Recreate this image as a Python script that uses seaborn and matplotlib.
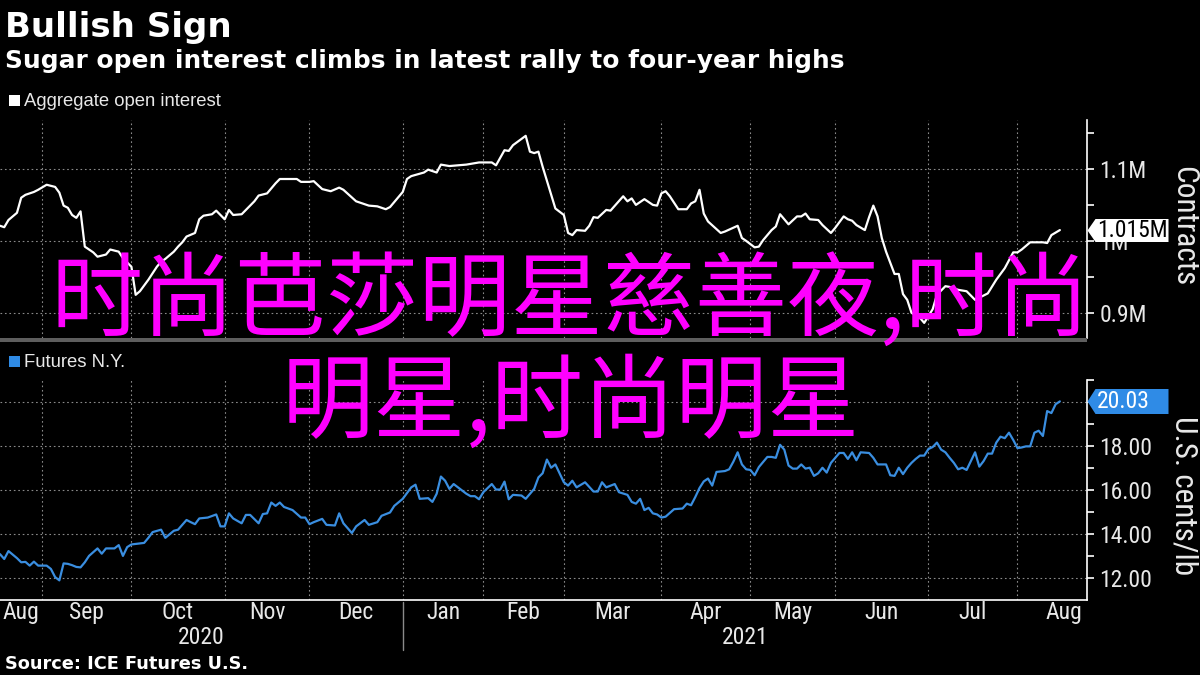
import numpy as np
import pandas as pd
import matplotlib
matplotlib.use("Agg")
import matplotlib.pyplot as plt
import matplotlib.transforms as mtransforms
from matplotlib.patches import Rectangle
from matplotlib.path import Path
from matplotlib.markers import MarkerStyle
from matplotlib import font_manager as fm
import seaborn as sns

# ---------------- data ----------------
TITLE = "Bullish Sign"
SUBTITLE = "Sugar open interest climbs in latest rally to four-year highs"
SOURCE = "Source: ICE Futures U.S."
LEGEND_TOP = "Aggregate open interest"
LEGEND_BOTTOM = "Futures N.Y."
YLABEL_TOP = "Contracts"
YLABEL_BOTTOM = "U.S. cents/lb"
OVERLAY_1 = "时尚芭莎明星慈善夜,时尚"
OVERLAY_2 = "明星,时尚明星"

OI_DATES = [
    "2020-08-18", "2020-08-19", "2020-08-20", "2020-08-24", "2020-08-25", "2020-08-26", "2020-08-28",
    "2020-08-31", "2020-09-02", "2020-09-04", "2020-09-08", "2020-09-09", "2020-09-10", "2020-09-11",
    "2020-09-14", "2020-09-15", "2020-09-16", "2020-09-18", "2020-09-21", "2020-09-23", "2020-09-24",
    "2020-09-28", "2020-09-29", "2020-10-01", "2020-10-02", "2020-10-05", "2020-10-07", "2020-10-09",
    "2020-10-12", "2020-10-13", "2020-10-15", "2020-10-16", "2020-10-19", "2020-10-20", "2020-10-22",
    "2020-10-23", "2020-10-26", "2020-10-28", "2020-10-29", "2020-11-02", "2020-11-03", "2020-11-04",
    "2020-11-06", "2020-11-11", "2020-11-12", "2020-11-16", "2020-11-18", "2020-11-19", "2020-11-25",
    "2020-11-27", "2020-12-01", "2020-12-02", "2020-12-04", "2020-12-08", "2020-12-10", "2020-12-11",
    "2020-12-16", "2020-12-17", "2020-12-21", "2020-12-23", "2020-12-28", "2020-12-29", "2021-01-04",
    "2021-01-05", "2021-01-06", "2021-01-11", "2021-01-12", "2021-01-14", "2021-01-15", "2021-01-20",
    "2021-01-22", "2021-01-26", "2021-01-29", "2021-02-03", "2021-02-04", "2021-02-08", "2021-02-09",
    "2021-02-10", "2021-02-16", "2021-02-17", "2021-02-18", "2021-02-19", "2021-02-22", "2021-02-25",
    "2021-03-01", "2021-03-02", "2021-03-03", "2021-03-04", "2021-03-08", "2021-03-09", "2021-03-10",
    "2021-03-11", "2021-03-15", "2021-03-16", "2021-03-19", "2021-03-22", "2021-03-23", "2021-03-24",
    "2021-03-26", "2021-03-30", "2021-03-31", "2021-04-01", "2021-04-05", "2021-04-06", "2021-04-08",
    "2021-04-12", "2021-04-13", "2021-04-14", "2021-04-15", "2021-04-16", "2021-04-19", "2021-04-22",
    "2021-04-23", "2021-04-28", "2021-04-29", "2021-04-30", "2021-05-04", "2021-05-05", "2021-05-06",
    "2021-05-10", "2021-05-11", "2021-05-12", "2021-05-14", "2021-05-18", "2021-05-19", "2021-05-20",
    "2021-05-21", "2021-05-25", "2021-05-26", "2021-05-28", "2021-06-01", "2021-06-03", "2021-06-04",
    "2021-06-07", "2021-06-08", "2021-06-10", "2021-06-11", "2021-06-14", "2021-06-15", "2021-06-16",
    "2021-06-17", "2021-06-21", "2021-06-22", "2021-06-23", "2021-06-24", "2021-06-25", "2021-06-29",
    "2021-06-30", "2021-07-02", "2021-07-06", "2021-07-08", "2021-07-09", "2021-07-13", "2021-07-15",
    "2021-07-19", "2021-07-22", "2021-07-26", "2021-07-28", "2021-07-30", "2021-08-02", "2021-08-03",
    "2021-08-05", "2021-08-10", "2021-08-11", "2021-08-12", "2021-08-16",
]
# aggregate open interest, million contracts
OI_VALUES = [
    1.021, 1.019, 1.029, 1.039, 1.060, 1.064, 1.068,
    1.071, 1.078, 1.075, 1.067, 1.049, 1.046, 1.036,
    1.032, 1.041, 0.992, 0.984, 0.978, 0.981, 0.988,
    0.985, 0.976, 0.964, 0.925, 0.930, 0.946, 0.964,
    0.971, 0.975, 0.985, 0.992, 0.998, 1.006, 1.011,
    1.030, 1.035, 1.037, 1.042, 1.030, 1.043, 1.036,
    1.037, 1.055, 1.063, 1.066, 1.080, 1.086, 1.086,
    1.082, 1.082, 1.083, 1.072, 1.069, 1.074, 1.071,
    1.055, 1.053, 1.049, 1.048, 1.044, 1.047, 1.068,
    1.086, 1.090, 1.095, 1.099, 1.095, 1.106, 1.104,
    1.105, 1.106, 1.109, 1.109, 1.105, 1.126, 1.125,
    1.133, 1.146, 1.124, 1.122, 1.124, 1.103, 1.045,
    1.036, 1.011, 1.008, 1.015, 1.014, 1.021, 1.033,
    1.032, 1.043, 1.042, 1.062, 1.055, 1.059, 1.050,
    1.058, 1.050, 1.049, 1.066, 1.069, 1.062, 1.044,
    1.044, 1.052, 1.055, 1.071, 1.038, 1.027, 1.011,
    1.013, 1.021, 1.004, 1.000, 0.991, 0.992, 1.001,
    1.015, 1.020, 1.037, 1.023, 1.034, 1.034, 1.038,
    1.030, 1.029, 1.022, 1.011, 1.018, 1.034, 1.030,
    1.028, 1.022, 1.015, 1.033, 1.049, 1.034, 1.004,
    0.985, 0.954, 0.954, 0.926, 0.918, 0.900, 0.893,
    0.886, 0.905, 0.925, 0.937, 0.936, 0.932, 0.930,
    0.918, 0.927, 0.946, 0.962, 0.984, 0.984, 0.988,
    0.998, 0.998, 0.997, 1.008, 1.015,
]

FUT_DATES = [
    "2020-08-18", "2020-08-19", "2020-08-20", "2020-08-24", "2020-08-25", "2020-08-26", "2020-08-27",
    "2020-08-28", "2020-08-31", "2020-09-02", "2020-09-03", "2020-09-04", "2020-09-08", "2020-09-09",
    "2020-09-10", "2020-09-11", "2020-09-14", "2020-09-15", "2020-09-16", "2020-09-17", "2020-09-21",
    "2020-09-22", "2020-09-23", "2020-09-25", "2020-09-28", "2020-09-29", "2020-09-30", "2020-10-01",
    "2020-10-06", "2020-10-07", "2020-10-08", "2020-10-12", "2020-10-13", "2020-10-15", "2020-10-16",
    "2020-10-20", "2020-10-21", "2020-10-22", "2020-10-23", "2020-10-27", "2020-10-29", "2020-10-30",
    "2020-11-02", "2020-11-03", "2020-11-04", "2020-11-06", "2020-11-09", "2020-11-10", "2020-11-12",
    "2020-11-13", "2020-11-16", "2020-11-17", "2020-11-18", "2020-11-19", "2020-11-20", "2020-11-24",
    "2020-11-27", "2020-11-30", "2020-12-01", "2020-12-02", "2020-12-04", "2020-12-07", "2020-12-09",
    "2020-12-10", "2020-12-11", "2020-12-15", "2020-12-16", "2020-12-18", "2020-12-21", "2020-12-23",
    "2020-12-24", "2020-12-29", "2020-12-30", "2021-01-04", "2021-01-06", "2021-01-07", "2021-01-08",
    "2021-01-12", "2021-01-13", "2021-01-14", "2021-01-15", "2021-01-19", "2021-01-20", "2021-01-21",
    "2021-01-26", "2021-01-27", "2021-01-28", "2021-01-29", "2021-02-01", "2021-02-03", "2021-02-04",
    "2021-02-05", "2021-02-08", "2021-02-09", "2021-02-10", "2021-02-12", "2021-02-16", "2021-02-18",
    "2021-02-19", "2021-02-22", "2021-02-23", "2021-02-24", "2021-02-25", "2021-02-26", "2021-03-01",
    "2021-03-02", "2021-03-03", "2021-03-04", "2021-03-08", "2021-03-10", "2021-03-11", "2021-03-12",
    "2021-03-15", "2021-03-17", "2021-03-18", "2021-03-22", "2021-03-23", "2021-03-24", "2021-03-25",
    "2021-03-26", "2021-03-29", "2021-03-30", "2021-03-31", "2021-04-01", "2021-04-05", "2021-04-07",
    "2021-04-09", "2021-04-12", "2021-04-13", "2021-04-14", "2021-04-15", "2021-04-16", "2021-04-19",
    "2021-04-20", "2021-04-21", "2021-04-23", "2021-04-26", "2021-04-27", "2021-04-28", "2021-04-29",
    "2021-04-30", "2021-05-03", "2021-05-04", "2021-05-05", "2021-05-06", "2021-05-07", "2021-05-10",
    "2021-05-11", "2021-05-12", "2021-05-13", "2021-05-14", "2021-05-17", "2021-05-18", "2021-05-19",
    "2021-05-20", "2021-05-21", "2021-05-24", "2021-05-25", "2021-05-26", "2021-05-27", "2021-05-28",
    "2021-06-02", "2021-06-03", "2021-06-04", "2021-06-07", "2021-06-08", "2021-06-09", "2021-06-11",
    "2021-06-14", "2021-06-15", "2021-06-17", "2021-06-18", "2021-06-21", "2021-06-22", "2021-06-23",
    "2021-06-24", "2021-06-25", "2021-06-28", "2021-06-29", "2021-06-30", "2021-07-01", "2021-07-02",
    "2021-07-06", "2021-07-07", "2021-07-08", "2021-07-09", "2021-07-12", "2021-07-13", "2021-07-14",
    "2021-07-15", "2021-07-16", "2021-07-19", "2021-07-20", "2021-07-21", "2021-07-22", "2021-07-23",
    "2021-07-26", "2021-07-27", "2021-07-28", "2021-07-29", "2021-07-30", "2021-08-02", "2021-08-03",
    "2021-08-04", "2021-08-05", "2021-08-06", "2021-08-09", "2021-08-10", "2021-08-11", "2021-08-12",
    "2021-08-13", "2021-08-16",
]
# sugar No.11 futures, U.S. cents per lb
FUT_VALUES = [
    13.10, 12.88, 13.24, 12.92, 12.73, 12.75, 12.58,
    12.76, 12.58, 12.58, 12.43, 12.06, 11.91, 12.68,
    12.66, 12.60, 12.52, 12.50, 12.73, 13.02, 13.36,
    13.12, 13.36, 13.36, 13.51, 13.02, 13.42, 13.54,
    13.61, 13.84, 14.10, 14.21, 13.84, 14.16, 14.21,
    14.65, 14.55, 14.46, 14.72, 14.76, 14.90, 14.36,
    14.36, 14.95, 14.72, 14.50, 14.88, 14.88, 14.50,
    14.92, 14.95, 15.44, 15.29, 15.44, 15.24, 15.10,
    14.76, 14.76, 14.46, 14.55, 14.70, 14.43, 14.40,
    14.95, 14.50, 14.06, 14.36, 14.65, 14.43, 14.55,
    14.84, 14.99, 15.29, 15.61, 16.13, 16.25, 15.61,
    15.64, 15.47, 15.84, 16.62, 16.43, 16.06, 16.28,
    15.84, 15.73, 15.73, 15.59, 15.91, 16.28, 16.03,
    16.03, 16.39, 15.59, 15.79, 15.76, 15.61, 16.06,
    16.58, 16.77, 17.39, 17.02, 17.17, 16.77, 16.36,
    16.21, 16.43, 16.13, 16.36, 15.94, 15.94, 16.36,
    16.13, 16.28, 15.91, 15.79, 15.47, 15.39, 15.61,
    15.10, 15.20, 14.95, 14.90, 14.76, 14.80, 15.14,
    15.17, 15.39, 15.32, 15.69, 16.10, 16.40, 16.53,
    16.21, 16.83, 16.87, 16.95, 17.30, 17.72, 17.17,
    16.95, 16.92, 16.68, 17.05, 17.28, 17.51, 17.51,
    17.47, 18.06, 17.84, 17.12, 16.98, 16.98, 17.17,
    16.98, 17.02, 16.65, 16.77, 17.02, 16.80, 17.24,
    17.69, 17.69, 17.42, 17.72, 17.36, 17.72, 17.69,
    17.47, 17.17, 17.17, 16.68, 16.65, 17.02, 16.73,
    17.02, 17.24, 17.42, 17.57, 17.57, 17.87, 17.96,
    18.16, 17.84, 17.72, 17.47, 17.24, 16.95, 17.02,
    16.92, 17.32, 17.72, 17.07, 17.32, 17.66, 17.66,
    18.16, 18.43, 18.36, 18.61, 18.28, 17.91, 17.94,
    17.99, 17.99, 18.61, 18.70, 18.46, 19.59, 19.50,
    19.90, 20.03,
]

# exchange holidays (x axis counts trading sessions, as the original does)
HOLIDAYS = ["2020-09-07", "2020-11-26", "2020-12-25", "2021-01-01", "2021-01-18",
            "2021-02-15", "2021-04-02", "2021-05-31", "2021-07-05"]
AXIS_START = "2020-08-18"
AXIS_END = "2021-08-24"
MONTH_LABELS = ["Aug", "Sep", "Oct", "Nov", "Dec", "Jan", "Feb", "Mar",
                "Apr", "May", "Jun", "Jul", "Aug"]
YEAR_LABELS = ["2020", "2021"]
OI_TICKS = [0.9, 1.0, 1.1]
OI_TICK_LABELS = ["0.9M", "1M", "1.1M"]
OI_LIMITS = (0.865, 1.168)
FUT_TICKS = [12, 14, 16, 18, 20]
FUT_TICK_LABELS = ["12.00", "14.00", "16.00", "18.00", "20.00"]
FUT_LIMITS = (11.02, 20.8)

# ---------------- style ----------------
W, H = 1200, 675
BLUE = "#3a8ee0"
BOX_BLUE = "#2f8be6"
GRID = "#8a8a8a"
TXT = "#e8e8e8"

sns.set_theme(style="dark", rc={
    "figure.facecolor": "black", "axes.facecolor": "black",
    "savefig.facecolor": "black", "text.color": "white",
    "axes.labelcolor": "white", "xtick.color": TXT, "ytick.color": TXT,
    "axes.edgecolor": "white",
})
plt.rcParams["font.family"] = ["Liberation Sans", "DejaVu Sans"]


def pick_narrow():
    regular = [f for f in fm.fontManager.ttflist
               if f.style == "normal" and f.weight in (400, "normal", "regular", "book")]
    for pref in ("Liberation Sans Narrow", "Roboto Condensed", "Open Sans Condensed",
                 "Noto Sans Condensed", "DejaVu Sans Condensed"):
        for f in regular:
            if f.name == pref:
                return f.fname, 1.0
    for f in regular:
        if (f.stretch in ("condensed", "semi-condensed", "extra-condensed")
                or "Condensed" in f.name or "Narrow" in f.name):
            return f.fname, 1.0
    for f in regular:
        if f.name == "Liberation Sans":
            return f.fname, 0.88
    return None, 0.85


NARROW_PATH, NARROW_SCALE = pick_narrow()


def nfont(size):
    size = size * NARROW_SCALE
    if NARROW_PATH:
        return fm.FontProperties(fname=NARROW_PATH, size=size)
    return fm.FontProperties(family="DejaVu Sans", size=size)


HOL = np.array(HOLIDAYS, dtype="datetime64[D]")
START = np.datetime64(AXIS_START, "D")


def sessions(dates):
    return np.busday_count(START, np.array(dates, dtype="datetime64[D]"), holidays=HOL)


oi = pd.DataFrame({"session": sessions(OI_DATES), "value": OI_VALUES})
fut = pd.DataFrame({"session": sessions(FUT_DATES), "value": FUT_VALUES})

month_firsts = pd.date_range("2020-08-01", "2021-09-01", freq="MS").values.astype("datetime64[D]")
month_starts = sessions(np.busday_offset(month_firsts, 0, roll="forward", holidays=HOL))
x0, x1 = 0.0, float(sessions([AXIS_END])[0]) + 0.4
label_pos = [(max(month_starts[k], x0) + month_starts[k + 1]) / 2 for k in range(len(MONTH_LABELS))]
boundaries = month_starts[1:len(MONTH_LABELS)]
jan_start = month_starts[5]
year_pos = [(x0 + jan_start) / 2, (jan_start + x1) / 2]

fig = plt.figure(figsize=(W / 100, H / 100), dpi=100)


def fx(px):
    return px / W


def fy(py):
    return 1 - py / H


ax1 = fig.add_axes([0, fy(338), fx(1087), (338 - 120) / H])
ax2 = fig.add_axes([0, fy(600), fx(1087), (600 - 380) / H])

sns.lineplot(data=oi, x="session", y="value", ax=ax1, color="white", linewidth=1.6,
             estimator=None, legend=False)
sns.lineplot(data=fut, x="session", y="value", ax=ax2, color=BLUE, linewidth=1.6,
             estimator=None, legend=False)

TICK_FP = nfont(17)
for ax, ticks, labels, lims, df in ((ax1, OI_TICKS, OI_TICK_LABELS, OI_LIMITS, oi),
                                    (ax2, FUT_TICKS, FUT_TICK_LABELS, FUT_LIMITS, fut)):
    ax.set_xlim(x0, x1)
    ax.set_ylim(*lims)
    ax.set_xlabel("")
    ax.set_ylabel("")
    ax.yaxis.tick_right()
    ax.set_yticks(ticks)
    ax.set_yticklabels(labels)
    step = ticks[1] - ticks[0]
    ax.set_yticks([t + step / 2 for t in ticks], minor=True)
    ax.tick_params(axis="y", which="major", length=5, width=1.2, colors="white",
                   labelcolor=TXT, pad=4)
    ax.tick_params(axis="y", which="minor", length=5, width=1.2, colors="white")
    last = df["value"].iloc[-1]
    for t, lbl in zip(ticks, ax.get_yticklabels()):
        lbl.set_fontproperties(TICK_FP)
        # a label entirely covered by the last-value tag is not visible in the original
        if abs(t - last) < 0.05 * step:
            lbl.set_visible(False)
    ax.set_xticks(boundaries)
    ax.grid(True, which="major", axis="both", color=GRID, linestyle=(0, (1.5, 2.5)),
            linewidth=0.8)
    for s in ("top", "left", "bottom"):
        ax.spines[s].set_visible(False)
    ax.spines["right"].set_color("white")
    ax.spines["right"].set_linewidth(1.2)

ax1.tick_params(axis="x", which="both", length=0, labelbottom=False)
ax2.spines["bottom"].set_visible(True)
ax2.spines["bottom"].set_color("white")
ax2.spines["bottom"].set_linewidth(1.2)
ax2.set_xticklabels([])
ax2.set_xticks(label_pos, minor=True)
ax2.set_xticklabels(MONTH_LABELS, minor=True)
ax2.tick_params(axis="x", which="major", length=0)
ax2.tick_params(axis="x", which="minor", length=0, labelcolor=TXT, pad=1)
for lbl in ax2.get_xticklabels(minor=True):
    lbl.set_fontproperties(TICK_FP)

blend2 = mtransforms.blended_transform_factory(ax2.transData, ax2.transAxes)
for pos, lab in zip(year_pos, YEAR_LABELS):
    ax2.text(pos, -37 / 220, lab, transform=blend2, ha="center", va="center",
             fontproperties=TICK_FP, color=TXT, clip_on=False)
ax2.plot([jan_start, jan_start], [-2 / 220, -50 / 220], transform=blend2, color="#8a8a8a",
         linewidth=1, clip_on=False)


# last-value tags
def pentagon(width_px, height_px, tip_px):
    h = height_px / 2 / width_px
    t = tip_px / width_px
    verts = [(0, 0), (t, h), (1, h), (1, -h), (t, -h), (0, 0)]
    codes = [Path.MOVETO] + [Path.LINETO] * 4 + [Path.CLOSEPOLY]
    return MarkerStyle(Path(verts, codes)), width_px * 0.72 * 2


for ax, df, fc, tc, txt, hgt in ((ax1, oi, "white", "black", f"{OI_VALUES[-1]:.3f}M", 23),
                                 (ax2, fut, BOX_BLUE, "white", f"{FUT_VALUES[-1]:.2f}", 25)):
    tr = mtransforms.blended_transform_factory(ax.transAxes, ax.transData)
    last = df["value"].iloc[-1]
    mk, ms = pentagon(81, hgt, 8)
    ax.plot([1.0], [last], transform=tr, marker=mk, markersize=ms, color=fc,
            markeredgewidth=0, linestyle="none", clip_on=False, zorder=10)
    ax.annotate(txt, xy=(1.0, last), xycoords=tr, xytext=(7, 0), textcoords="offset points",
                ha="left", va="center", fontproperties=TICK_FP, color=tc, zorder=11,
                annotation_clip=False)

# separator bar between panels
fig.patches.append(Rectangle((0, fy(342)), fx(1087), 4 / H, transform=fig.transFigure,
                             facecolor="#5e5e5e", edgecolor="none"))

# titles & legend entries
fig.text(fx(5), fy(37), TITLE, fontsize=24.5, fontweight="bold", family="DejaVu Sans",
         color="white", va="baseline", ha="left")
fig.text(fx(5), fy(68), SUBTITLE, fontsize=17.9, fontweight="bold", family="DejaVu Sans",
         color="white", va="baseline", ha="left")
fig.text(fx(5), fy(669), SOURCE, fontsize=12.8, fontweight="bold", family="DejaVu Sans",
         color="white", va="baseline", ha="left")

fig.patches.append(Rectangle((fx(9), fy(106)), fx(11), 11 / H, transform=fig.transFigure,
                             facecolor="white", edgecolor="none"))
fig.text(fx(24), fy(106), LEGEND_TOP, fontsize=13.3, family="Liberation Sans", color=TXT,
         va="baseline", ha="left")
fig.patches.append(Rectangle((fx(9), fy(367)), fx(11), 11 / H, transform=fig.transFigure,
                             facecolor=BOX_BLUE, edgecolor="none"))
fig.text(fx(24), fy(367), LEGEND_BOTTOM, fontsize=13.3, family="Liberation Sans", color=TXT,
         va="baseline", ha="left")

AX_FP = nfont(22.5)
fig.text(fx(1184), fy(226), YLABEL_TOP, rotation=270, fontproperties=AX_FP, color=TXT,
         ha="center", va="center")
fig.text(fx(1184), fy(496), YLABEL_BOTTOM, rotation=270, fontproperties=AX_FP, color=TXT,
         ha="center", va="center")

# magenta overlay text
CJK = ["Noto Sans CJK SC", "DejaVu Sans"]
fig.text(fx(570), fy(302), OVERLAY_1, fontsize=66.3, family=CJK, color="#ff00ff",
         ha="center", va="center", zorder=20)
fig.text(fx(571), fy(404), OVERLAY_2, fontsize=66.3, family=CJK, color="#ff00ff",
         ha="center", va="center", zorder=20)

fig.savefig("out.png", dpi=100, facecolor="black")
